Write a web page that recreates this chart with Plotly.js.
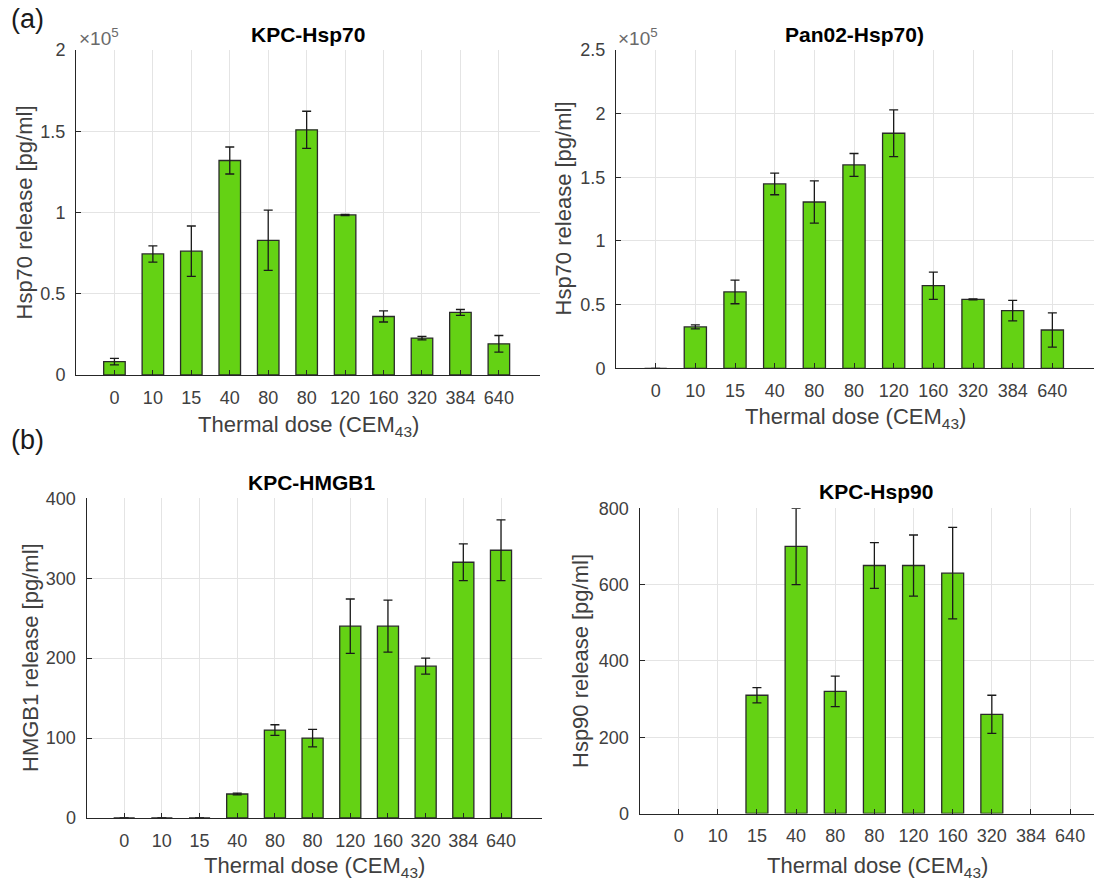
<!DOCTYPE html>
<html>
<head>
<meta charset="utf-8">
<script src="https://cdn.plot.ly/plotly-3.0.1.min.js"></script>
<style>html,body{margin:0;padding:0;background:#fff;}#chart{width:1094px;height:885px;}</style>
</head>
<body>
<div id="chart"></div>
<script>
// ---------- data ----------
const doseLabels = ['0','10','15','40','80','80','120','160','320','384','640'];
const positions = [1,2,3,4,5,6,7,8,9,10,11];

const kpcHsp70 = [8200, 74500, 76200, 132000, 82900, 150900, 98500, 36000, 22700, 38500, 19200];
const kpcHsp70Err = [2000, 5000, 15500, 8300, 18500, 11400, 400, 3400, 1100, 1800, 5100];

const pan02Hsp70 = [0, 32500, 60000, 144800, 130600, 159700, 184600, 64900, 54200, 45300, 30100];
const pan02Hsp70Err = [0, 1600, 9300, 8500, 16600, 9000, 18300, 10700, 400, 8100, 13500];

const kpcHmgb1 = [0, 0, 0, 30, 110, 100, 240, 240, 190, 320, 335];
const kpcHmgb1Err = [0, 0, 0, 1, 6.7, 11, 34, 32.5, 10, 23, 38];

// no measurement shown at 0, 10, 384 and 640
const kpcHsp90 = [null, null, 310, 700, 320, 650, 650, 630, 260, null, null];
const kpcHsp90Err = [null, null, 20, 100, 40, 60, 80, 120, 50, null, null];

const hsp70Ticks1 = [0, 50000, 100000, 150000, 200000];
const hsp70TickText1 = ['0', '0.5', '1', '1.5', '2'];
const hsp70Ticks2 = [0, 50000, 100000, 150000, 200000, 250000];
const hsp70TickText2 = ['0', '0.5', '1', '1.5', '2', '2.5'];

// ---------- helpers ----------
const W = 1094, H = 885;
const fx = p => p / W;
const fy = p => 1 - p / H;

const GREEN = '#64d214';
const TICKCOL = '#404040';
const FONT = 'Liberation Sans, Arial, Helvetica, sans-serif';

function barTrace(y, err, xa, ya) {
  return {
    type: 'bar', x: positions, y: y, xaxis: xa, yaxis: ya,
    width: 0.56,
    marker: {color: GREEN, line: {color: '#2a2a2a', width: 1.3}},
    error_y: {type: 'data', array: err, visible: true, color: '#1a1a1a', thickness: 1.3, width: 4.5},
    showlegend: false, hoverinfo: 'x+y'
  };
}

function xAxis(dom, rng, anchor) {
  return {
    domain: dom, range: rng, anchor: anchor,
    tickmode: 'array', tickvals: positions, ticktext: doseLabels,
    ticks: 'inside', ticklen: 5, tickcolor: '#262626', tickwidth: 1,
    showline: true, linecolor: '#262626', linewidth: 1,
    showgrid: true, gridcolor: '#e4e4e4', gridwidth: 1,
    zeroline: false, fixedrange: true,
    tickfont: {family: FONT, size: 18, color: TICKCOL},
    ticklabelstandoff: 6
  };
}
function yAxis(dom, rng, anchor, tv, tt) {
  const a = {
    domain: dom, range: rng, anchor: anchor,
    ticks: 'inside', ticklen: 5, tickcolor: '#262626', tickwidth: 1,
    showline: true, linecolor: '#262626', linewidth: 1,
    showgrid: true, gridcolor: '#e4e4e4', gridwidth: 1,
    zeroline: false, fixedrange: true,
    tickfont: {family: FONT, size: 18, color: TICKCOL},
    ticklabelstandoff: 6
  };
  if (tv) { a.tickmode = 'array'; a.tickvals = tv; a.ticktext = tt; }
  else { a.dtick = 200; a.tick0 = 0; }
  return a;
}

const data = [
  barTrace(kpcHsp70, kpcHsp70Err, 'x', 'y'),
  barTrace(pan02Hsp70, pan02Hsp70Err, 'x2', 'y2'),
  barTrace(kpcHmgb1, kpcHmgb1Err, 'x3', 'y3'),
  barTrace(kpcHsp90, kpcHsp90Err, 'x4', 'y4')
];

const yl3 = yAxis([fy(818), fy(498.3)], [0, 400], 'x3');
yl3.dtick = 100;

const layout = {
  width: W, height: H,
  margin: {l: 0, r: 0, t: 0, b: 0},
  paper_bgcolor: '#ffffff', plot_bgcolor: '#ffffff',
  font: {family: FONT, color: TICKCOL},
  bargap: 0,
  xaxis:  xAxis([fx(76), fx(540)], [0, 12.07], 'y'),
  yaxis:  yAxis([fy(375), fy(50)], [0, 200000], 'x', hsp70Ticks1, hsp70TickText1),
  xaxis2: xAxis([fx(616), 1], [0, 12.05], 'y2'),
  yaxis2: yAxis([fy(368.3), fy(50)], [0, 250000], 'x2', hsp70Ticks2, hsp70TickText2),
  xaxis3: xAxis([fx(86.5), fx(541.7)], [0, 12.08], 'y3'),
  yaxis3: yl3,
  xaxis4: xAxis([fx(639.5), 1], [0, 11.61], 'y4'),
  yaxis4: yAxis([fy(813.5), fy(508.3)], [0, 800], 'x4'),
  annotations: []
};

function ann(text, x, y, opts) {
  layout.annotations.push(Object.assign({
    text: text, xref: 'paper', yref: 'paper', x: fx(x), y: fy(y),
    xanchor: 'center', yanchor: 'middle', showarrow: false,
    font: {family: FONT, size: 22, color: TICKCOL}
  }, opts || {}));
}

// panel labels
ann('(a)', 27, 19, {font: {family: FONT, size: 27, color: '#1a1a1a'}});
ann('(b)', 27, 440, {font: {family: FONT, size: 27, color: '#1a1a1a'}});

// subplot titles
const titleFont = {family: FONT, size: 21, color: '#000000'};
ann('<b>KPC-Hsp70</b>', 308, 34, {font: titleFont});
ann('<b>Pan02-Hsp70)</b>', 854, 34, {font: titleFont});
ann('<b>KPC-HMGB1</b>', 311, 482.5, {font: titleFont});
ann('<b>KPC-Hsp90</b>', 876, 491.5, {font: titleFont});

// exponent labels
const expFont = {family: FONT, size: 19, color: '#6a6a6a'};
ann('×10<sup>5</sup>', 77, 37, {xanchor: 'left', font: expFont});
ann('×10<sup>5</sup>', 616, 37, {xanchor: 'left', font: expFont});

// x-axis titles
const xt = 'Thermal dose (CEM<sub>43</sub>)';
ann(xt, 308, 426);
ann(xt, 855, 418);
ann(xt, 314, 867);
ann(xt, 877, 867);

// y-axis titles
ann('Hsp70 release [pg/ml]', 24, 212.5, {textangle: -90});
ann('Hsp70 release [pg/ml]', 563.5, 209, {textangle: -90});
ann('HMGB1 release [pg/ml]', 30, 658, {textangle: -90});
ann('Hsp90 release [pg/ml]', 580, 661, {textangle: -90});

Plotly.newPlot('chart', data, layout, {displayModeBar: false, staticPlot: true});
</script>
</body>
</html>
